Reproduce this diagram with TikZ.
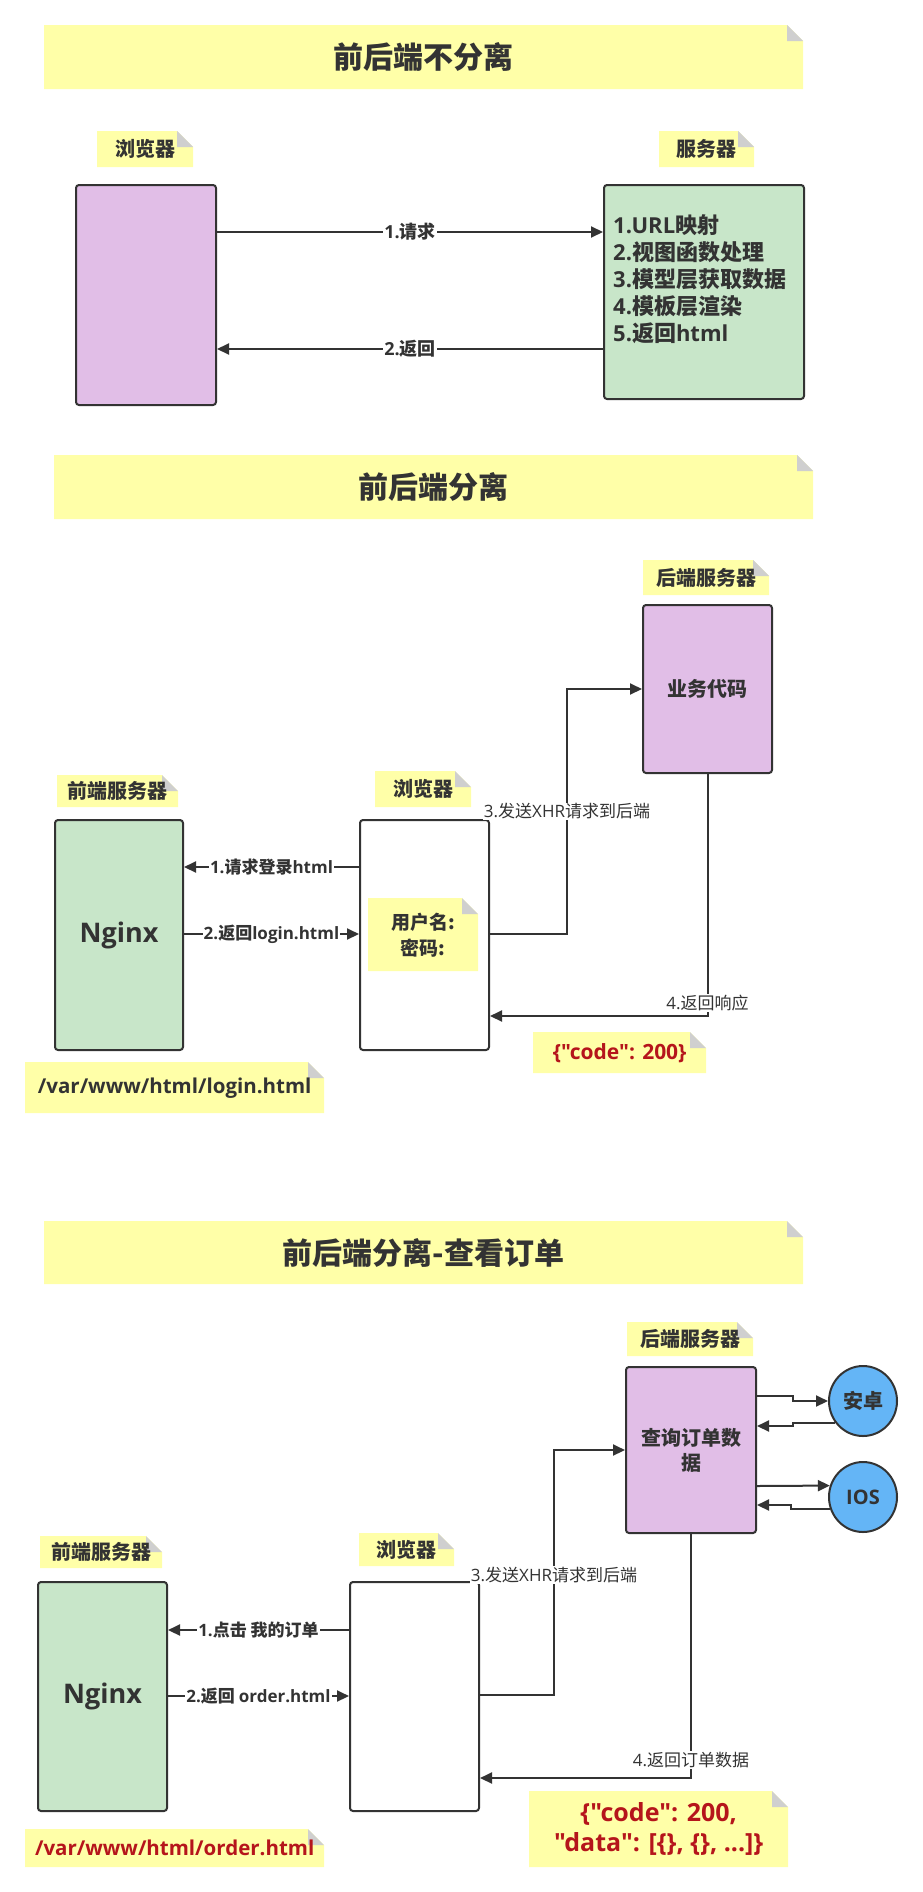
\documentclass[tikz,border=0pt]{standalone}
\usepackage{fontspec}
\setmainfont{Noto Sans CJK SC}
\newfontfamily\lat{Open Sans}[Ligatures=TeXOff]
\usetikzlibrary{arrows.meta,shapes.geometric}
\definecolor{notey}{HTML}{FFFFA8}
\definecolor{foldg}{HTML}{CFCFCF}
\definecolor{purp}{HTML}{E1BEE7}
\definecolor{grn}{HTML}{C8E6C9}
\definecolor{blu}{HTML}{64B5F6}
\definecolor{dark}{HTML}{333333}
\definecolor{redt}{HTML}{B5151B}
\newcommand\fsz[1]{\fontsize{#1}{#1}\selectfont}
\tikzset{
  every node/.style={text=dark},
  notebox/.style={inner sep=0pt, anchor=north west, fill=white, font=\bfseries\fsz{20},
    path picture={
      \fill[notey] (path picture bounding box.north west) -- ([xshift=-16pt]path picture bounding box.north east) -- ([yshift=-16pt]path picture bounding box.north east) -- (path picture bounding box.south east) -- (path picture bounding box.south west) -- cycle;
      \fill[foldg] ([xshift=-16pt]path picture bounding box.north east) -- ([xshift=-16pt,yshift=-16pt]path picture bounding box.north east) -- ([yshift=-16pt]path picture bounding box.north east) -- cycle;
    }},
  box/.style={draw=dark, line width=2pt, rounded corners=3pt, inner sep=0pt, anchor=north west},
  ell/.style={shape=ellipse, draw=dark, line width=2pt, fill=blu, minimum width=68pt, minimum height=70pt, inner sep=0pt, font=\bfseries\fsz{20}},
  lbl/.style={fill=white, inner sep=1pt, font=\bfseries\fsz{17}},
  lblr/.style={fill=white, inner sep=1pt, font=\fsz{17}},
  arr/.style={draw=dark, line width=2pt, -{Triangle[length=12pt,width=11pt]}},
}
\begin{document}
\begin{tikzpicture}[x=1pt,y=-1pt]
\useasboundingbox (0,0) rectangle (922,1892);

% ---------- Section 1 ----------
\node[notebox, minimum width=759pt, minimum height=64pt, font=\bfseries\fsz{30}] (t1) at (44,25) {前后端不分离};
\node[notebox, minimum width=96pt, minimum height=36pt] (l1a) at (97,131) {浏览器};
\node[notebox, minimum width=95pt, minimum height=36pt] (l1b) at (659,131) {服务器};
\node[box, fill=purp, minimum width=140pt, minimum height=220pt] (b1) at (75,184) {};
\node[box, fill=grn, minimum width=200pt, minimum height=214pt] (s1) at (603,184) {};
\node[anchor=west, align=left, inner sep=0pt, font=\bfseries\fontsize{22}{27}\selectfont] (s1t) at ([xshift=10pt,yshift=12.5pt]s1.west)
  {{\lat 1.URL}映射\\{\lat 2.}视图函数处理\\{\lat 3.}模型层获取数据\\{\lat 4.}模板层渲染\\{\lat 5.}返回{\lat html}};
\draw[arr] ([yshift=-48pt]b1.north east) -- node[lbl, font=\bfseries\fsz{18}] {{\lat 1.}请求} ([yshift=-48pt]s1.north west);
\draw[arr] ([yshift=-165pt]s1.north west) -- node[lbl, font=\bfseries\fsz{18}] {{\lat 2.}返回} ([yshift=-165pt]b1.north east);

% ---------- Section 2 ----------
\node[notebox, minimum width=759pt, minimum height=64pt, font=\bfseries\fsz{30}] (t2) at (54,455) {前后端分离};
\node[notebox, minimum width=126pt, minimum height=35pt] (l2be) at (643,560) {后端服务器};
\node[box, fill=purp, minimum width=129pt, minimum height=168pt, font=\bfseries\fsz{20}] (be2) at (642,604) {业务代码};
\node[notebox, minimum width=121pt, minimum height=32pt] (l2fe) at (57,775) {前端服务器};
\node[notebox, minimum width=96pt, minimum height=36pt] (l2br) at (375,771) {浏览器};
\node[box, fill=grn, minimum width=128pt, minimum height=230pt, font=\lat\bfseries\fsz{27}] (ng2) at (54,819) {Nginx};
\node[box, fill=white, minimum width=129pt, minimum height=230pt] (br2) at (359,819) {};
\node[notebox, minimum width=110pt, minimum height=73pt, align=center, font=\bfseries\fontsize{19}{26}\selectfont] (up2) at (368,898) {用户名:\\密码:};
\draw[arr] ([yshift=-48pt]br2.north west) -- node[lbl] {{\lat 1.}请求登录{\lat html}} ([yshift=-48pt]ng2.north east);
\draw[arr] ([yshift=-115pt]ng2.north east) -- node[lbl] {{\lat 2.}返回{\lat login.html}} ([yshift=-115pt]br2.north west);
\draw[arr] ([yshift=-115pt]br2.north east) -- ++(77,0) |- node[lblr, pos=0.25] {{\lat 3.}发送{\lat XHR}请求到后端} (be2.west);
\draw[arr] (be2.south) |- node[lblr, pos=0.473] {{\lat 4.}返回响应} ([yshift=-197pt]br2.north east);
\node[notebox, minimum width=173pt, minimum height=41pt, text=redt, font=\lat\bfseries\fsz{21}] (c2) at (533,1032) {\{"code": 200\}};
\node[notebox, minimum width=299pt, minimum height=51pt, font=\lat\bfseries\fsz{20.5}] (p2) at (25,1062) {/var/www/html/login.html};

% ---------- Section 3 ----------
\node[notebox, minimum width=759pt, minimum height=63pt, font=\bfseries\fsz{30}] (t3) at (44,1221) {前后端分离-查看订单};
\node[notebox, minimum width=126pt, minimum height=34pt] (l3be) at (627,1322) {后端服务器};
\node[box, fill=purp, minimum width=130pt, minimum height=166pt, align=center, font=\bfseries\fontsize{20}{25}\selectfont] (be3) at (625,1366) {查询订单数\\据};
\node[ell] (and) at (863,1401) {安卓};
\node[ell] (ios) at (863,1497) {{\lat IOS}};
\node[notebox, minimum width=122pt, minimum height=32pt] (l3fe) at (40,1536) {前端服务器};
\node[notebox, minimum width=95pt, minimum height=33pt] (l3br) at (359,1533) {浏览器};
\node[box, fill=grn, minimum width=129pt, minimum height=229pt, font=\lat\bfseries\fsz{27}] (ng3) at (37,1581) {Nginx};
\node[box, fill=white, minimum width=129pt, minimum height=229pt] (br3) at (349,1581) {};
\draw[arr] ([yshift=-49pt]br3.north west) -- node[lbl] {{\lat 1.}点击 我的订单} ([yshift=-49pt]ng3.north east);
\draw[arr] ([yshift=-115pt]ng3.north east) -- node[lbl] {{\lat 2.}返回 {\lat order.html}} ([yshift=-115pt]br3.north west);
\draw[arr] ([yshift=-114pt]br3.north east) -- ++(74,0) |- node[lblr, pos=0.245] {{\lat 3.}发送{\lat XHR}请求到后端} (be3.west);
\draw[arr] (be3.south) |- node[lblr, pos=0.463] {{\lat 4.}返回订单数据} ([yshift=-197pt]br3.north east);
\draw[arr] ([yshift=-30pt]be3.north east) -- ++(36,0) |- (and.west);
\draw[arr] (and.218) -- ++(-42,0) |- ([yshift=-60pt]be3.north east);
\draw[arr] ([yshift=-120pt]be3.north east) -- (ios.161);
\draw[arr] (ios.200) -- ++(-39,0) |- ([yshift=-139pt]be3.north east);
\node[notebox, minimum width=259pt, minimum height=76pt, text=redt, align=center, font=\lat\bfseries\fontsize{25}{30}\selectfont] (c3) at (529,1791) {\{"code": 200,\\"data": [\{\}, \{\}, ...]\}};
\node[notebox, minimum width=299pt, minimum height=38pt, text=redt, font=\lat\bfseries\fsz{20.5}] (p3) at (25,1829) {/var/www/html/order.html};
\end{tikzpicture}
\end{document}
